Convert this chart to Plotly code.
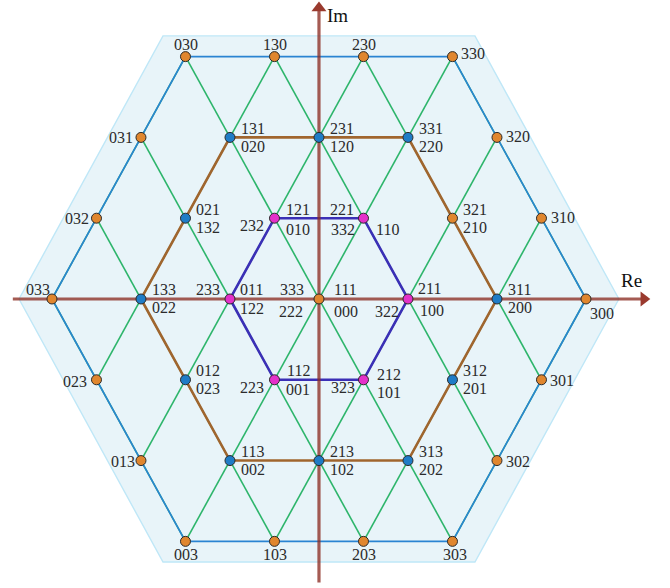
import math
import plotly.graph_objects as go

# ---------------- data ----------------
# switching-state groups: first state fixes the vector position
outer_states = ["030", "130", "230", "330", "031", "320", "032", "310", "033",
                "300", "023", "301", "013", "302", "003", "103", "203", "303"]
middle_groups = [["131", "020"], ["231", "120"], ["331", "220"],
                 ["021", "132"], ["321", "210"], ["133", "022"],
                 ["311", "200"], ["012", "023"], ["312", "201"],
                 ["113", "002"], ["213", "102"], ["313", "202"]]
inner_groups = [["121", "010", "232"], ["221", "332", "110"],
                ["011", "122", "233"], ["211", "100", "322"],
                ["112", "001", "223"], ["212", "101", "323"]]
center_group = ["333", "111", "222", "000"]
orange_middle = ["321"]          # the one middle point drawn orange
hex_radii = [3, 2, 1]            # outer, middle, inner hexagon
lattice_offsets = [-3, -2, -1, 0, 1, 2, 3]

# ---------------- style ----------------
ORANGE = "#e0862e"
BLUE = "#1f7cc6"
MAGENTA = "#e431c9"
GREEN = "#2db56b"
HEX_COL = {3: "#2a84d2", 2: "#a0652e", 1: "#3b2fb6"}
HEX_W = {3: 1.6, 2: 2.6, 1: 2.6}
AXIS_COL = "rgba(140,45,35,0.78)"
HEAD_COL = "#9a3a2e"
FONT = "Liberation Serif"
FS = 16

# label pixel offsets (dx right, dy down)
off = {
    "030": (1, -12), "130": (1, -12), "230": (1, -12), "330": (21, -3),
    "031": (-20, 0), "320": (21, -1), "032": (-19, 0), "310": (22, -1),
    "033": (-14, -9), "300": (16, 15), "023o": (-21, 2), "301": (21, 1),
    "013": (-18, 1), "302": (21, 1), "003": (1, 13), "103": (1, 13),
    "203": (1, 13), "303": (3, 13),
    "121": (24, -9), "010": (24, 11), "232": (-22, 7),
    "221": (-21, -9), "332": (-20, 11), "110": (24, 11),
    "011": (22, -9), "122": (22, 10), "233": (-22, -9),
    "211": (22, -10), "100": (24, 12), "322": (-21, 13),
    "112": (24, -9), "001": (24, 10), "223": (-22, 8),
    "212": (26, -5), "101": (26, 13), "323": (-20, 8),
    "333": (-27, -9), "111": (27, -9), "222": (-28, 13), "000": (27, 13),
}
mid_off = [(23, -9), (23, 9)]


def pos(s):
    a, b, c = (int(ch) for ch in s)
    return a - b / 2 - c / 2, (b - c) * math.sqrt(3) / 2


S3 = math.sqrt(3) / 2
fig = go.Figure()

# background hexagon
R_BG, H_BG = 3.37, 2.82
bg_x = [R_BG, R_BG * 0.52, -R_BG * 0.52, -R_BG, -R_BG * 0.52, R_BG * 0.52, R_BG]
bg_y = [0, H_BG, H_BG, 0, -H_BG, -H_BG, 0]
fig.add_trace(go.Scatter(x=bg_x, y=bg_y, mode="lines", fill="toself",
                         fillcolor="#e8f4f9", line=dict(color="#bfe7f7", width=1.4),
                         hoverinfo="skip"))

# green lattice lines (two diagonal directions)
gx, gy = [], []
for c in lattice_offsets:
    t0, t1 = max(-3, -3 - c), min(3, 3 - c)
    gx += [c + 0.5 * t0, c + 0.5 * t1, None]
    gy += [S3 * t0, S3 * t1, None]
    t0, t1 = max(-3, -3 + c), min(3, 3 + c)
    gx += [c - 0.5 * t0, c - 0.5 * t1, None]
    gy += [S3 * t0, S3 * t1, None]
fig.add_trace(go.Scatter(x=gx, y=gy, mode="lines", line=dict(color=GREEN, width=1.6),
                         hoverinfo="skip"))

# hexagons
for r in hex_radii:
    hx = [r * math.cos(math.radians(60 * k)) for k in range(7)]
    hy = [r * math.sin(math.radians(60 * k)) for k in range(7)]
    fig.add_trace(go.Scatter(x=hx, y=hy, mode="lines",
                             line=dict(color=HEX_COL[r], width=HEX_W[r]),
                             hoverinfo="skip"))

# axes
fig.add_trace(go.Scatter(x=[-3.44, 3.62], y=[0, 0], mode="lines",
                         line=dict(color=AXIS_COL, width=3.2), hoverinfo="skip"))
fig.add_trace(go.Scatter(x=[0, 0], y=[-3.04, 3.1], mode="lines",
                         line=dict(color=AXIS_COL, width=3.2), hoverinfo="skip"))
fig.add_trace(go.Scatter(x=[3.65], y=[0], mode="markers",
                         marker=dict(symbol="triangle-right", size=13, color=HEAD_COL),
                         hoverinfo="skip"))
fig.add_trace(go.Scatter(x=[0], y=[3.12], mode="markers",
                         marker=dict(symbol="triangle-up", size=13, color=HEAD_COL),
                         hoverinfo="skip"))

# points
px, py, pc = [], [], []
for s in outer_states:
    x, y = pos(s); px.append(x); py.append(y); pc.append(ORANGE)
for g in middle_groups:
    x, y = pos(g[0]); px.append(x); py.append(y)
    pc.append(ORANGE if g[0] in orange_middle else BLUE)
for g in inner_groups:
    x, y = pos(g[0]); px.append(x); py.append(y); pc.append(MAGENTA)
x, y = pos(center_group[0]); px.append(x); py.append(y); pc.append(ORANGE)
fig.add_trace(go.Scatter(x=px, y=py, mode="markers",
                         marker=dict(size=10, color=pc, line=dict(color="#2a2a2a", width=1)),
                         hoverinfo="skip"))

# labels
def lab(text, x, y, dx, dy):
    fig.add_annotation(x=x, y=y, text=text, showarrow=False, xshift=dx, yshift=-dy,
                       font=dict(family=FONT, size=FS, color="#2b2b2b"))

for s in outer_states:
    x, y = pos(s)
    key = "023o" if s == "023" else s
    lab(s, x, y, *off[key])
for g in middle_groups:
    x, y = pos(g[0])
    for t, o in zip(g, mid_off):
        lab(t, x, y, *o)
for g in inner_groups + [center_group]:
    x, y = pos(g[0])
    for t in g:
        lab(t, x, y, *off[t])

fig.add_annotation(x=0, y=3.2, text="Im", showarrow=False, xshift=19, yshift=-15,
                   font=dict(family=FONT, size=19, color="#111"))
fig.add_annotation(x=3.944, y=0, text="Re", showarrow=False, xshift=-39, yshift=18,
                   font=dict(family=FONT, size=19, color="#111"))

fig.update_layout(width=670, height=588, margin=dict(l=0, r=0, t=0, b=0),
                  showlegend=False, plot_bgcolor="white", paper_bgcolor="white",
                  xaxis=dict(range=[-3.584, 3.944], visible=False, fixedrange=True),
                  yaxis=dict(range=[-3.098, 3.205], visible=False, fixedrange=True))
fig.write_html("out.html")
